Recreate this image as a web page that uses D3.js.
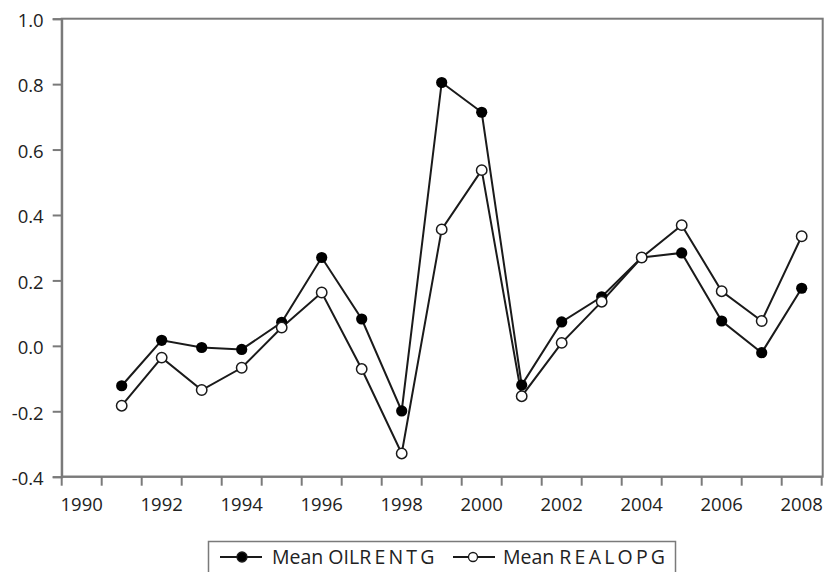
<!DOCTYPE html>
<html><head><meta charset="utf-8">
<script src="https://cdn.jsdelivr.net/npm/d3@7/dist/d3.min.js"></script>
<style>
html,body{margin:0;padding:0;background:#fff;}
svg{display:block;font-family:"Open Sans",sans-serif;}
</style></head>
<body><svg id="c" width="825" height="572"></svg>
<script>
const categories = [1990,1991,1992,1993,1994,1995,1996,1997,1998,1999,2000,2001,2002,2003,2004,2005,2006,2007,2008];
const years = [1991,1992,1993,1994,1995,1996,1997,1998,1999,2000,2001,2002,2003,2004,2005,2006,2007,2008];
const oilrentg = [-0.122,0.017,-0.005,-0.011,0.072,0.270,0.082,-0.199,0.805,0.714,-0.120,0.073,0.150,0.270,0.284,0.076,-0.021,0.176];
const realopg  = [-0.183,-0.036,-0.135,-0.067,0.056,0.163,-0.071,-0.329,0.356,0.537,-0.154,0.009,0.135,0.270,0.369,0.167,0.076,0.335];
const yTicks = [-0.4,-0.2,0.0,0.2,0.4,0.6,0.8,1.0];
const xTickLabels = [1990,1992,1994,1996,1998,2000,2002,2004,2006,2008];
const seriesNames = ["Mean OILRENTG","Mean REALOPG"];

const svg = d3.select("#c");
const L = 61.7, R = 821.7, T = 18.7, B = 476.7;
const x = d3.scaleBand().domain(categories).range([L, R]).padding(0);
const y = d3.scaleLinear().domain([-0.4, 1.0]).range([B, T]);
const cx = d => x(d) + x.bandwidth()/2;
const axisColor = "#7a7a7a";
const textColor = "#222";

// frame
svg.append("rect").attr("x", L).attr("y", T).attr("width", R - L + 1).attr("height", B - T)
  .attr("fill", "none").attr("stroke", axisColor).attr("stroke-width", 2);

// y axis
const yAxis = svg.append("g").attr("transform", `translate(${L},0)`)
  .call(d3.axisLeft(y).tickValues(yTicks).tickFormat(d => d.toFixed(1)).tickSize(9).tickPadding(9));
yAxis.select(".domain").attr("stroke", axisColor).attr("stroke-width", 2);
yAxis.selectAll(".tick line").attr("stroke", axisColor).attr("stroke-width", 2);
yAxis.selectAll(".tick text").attr("font-size", 18.5).attr("fill", textColor)
  .attr("font-family", "'Open Sans',sans-serif").attr("dy", "0.42em");

// x axis: ticks at band boundaries, labels at band centers
const bounds = categories.map(c => x(c)).concat([R]);
const xg = svg.append("g");
xg.selectAll("line").data(bounds).join("line")
  .attr("x1", d => d).attr("x2", d => d).attr("y1", B).attr("y2", B + 9)
  .attr("stroke", axisColor).attr("stroke-width", 2);
xg.append("line").attr("x1", L).attr("x2", R + 1).attr("y1", B).attr("y2", B)
  .attr("stroke", axisColor).attr("stroke-width", 2);
xg.selectAll("text").data(xTickLabels).join("text")
  .attr("x", d => cx(d)).attr("y", 511).attr("text-anchor", "middle")
  .attr("font-size", 18.5).attr("fill", textColor).text(d => d);

// lines
const line = d3.line().x(d => cx(d[0])).y(d => y(d[1]));
const s1 = years.map((yr, i) => [yr, oilrentg[i]]);
const s2 = years.map((yr, i) => [yr, realopg[i]]);
[s2, s1].forEach(s => {
  svg.append("path").datum(s).attr("d", line).attr("fill", "none")
    .attr("stroke", "#1a1a1a").attr("stroke-width", 2);
});
svg.append("g").selectAll("circle").data(s1).join("circle")
  .attr("cx", d => cx(d[0])).attr("cy", d => y(d[1])).attr("r", 5.6).attr("fill", "#000");
svg.append("g").selectAll("circle").data(s2).join("circle")
  .attr("cx", d => cx(d[0])).attr("cy", d => y(d[1])).attr("r", 5.2)
  .attr("fill", "#fff").attr("stroke", "#1a1a1a").attr("stroke-width", 1.5);

// legend
const lg = svg.append("g");
lg.append("rect").attr("x", 208.5).attr("y", 541.5).attr("width", 467).attr("height", 40)
  .attr("fill", "#fff").attr("stroke", axisColor).attr("stroke-width", 1.5);
const items = [
  {x1: 220, x2: 262, mx: 242, tx: 272, filled: true, a: "Mean OIL", b: "RENTG"},
  {x1: 453, x2: 495, mx: 473, tx: 503, filled: false, a: "Mean ", b: "REALOPG"}
];
items.forEach((it, i) => {
  lg.append("line").attr("x1", it.x1).attr("x2", it.x2).attr("y1", 557).attr("y2", 557)
    .attr("stroke", "#1a1a1a").attr("stroke-width", 2);
  lg.append("circle").attr("cx", it.mx).attr("cy", 557).attr("r", it.filled ? 5 : 4.5)
    .attr("fill", it.filled ? "#000" : "#fff").attr("stroke", "#1a1a1a").attr("stroke-width", 1.3);
  const t = lg.append("text").attr("x", it.tx).attr("y", 564).attr("font-size", 19.5).attr("fill", textColor);
  t.append("tspan").text(it.a);
  t.append("tspan").attr("letter-spacing", 3.2).text(it.b);
  t.attr("data-name", seriesNames[i]);
});
</script></body></html>
